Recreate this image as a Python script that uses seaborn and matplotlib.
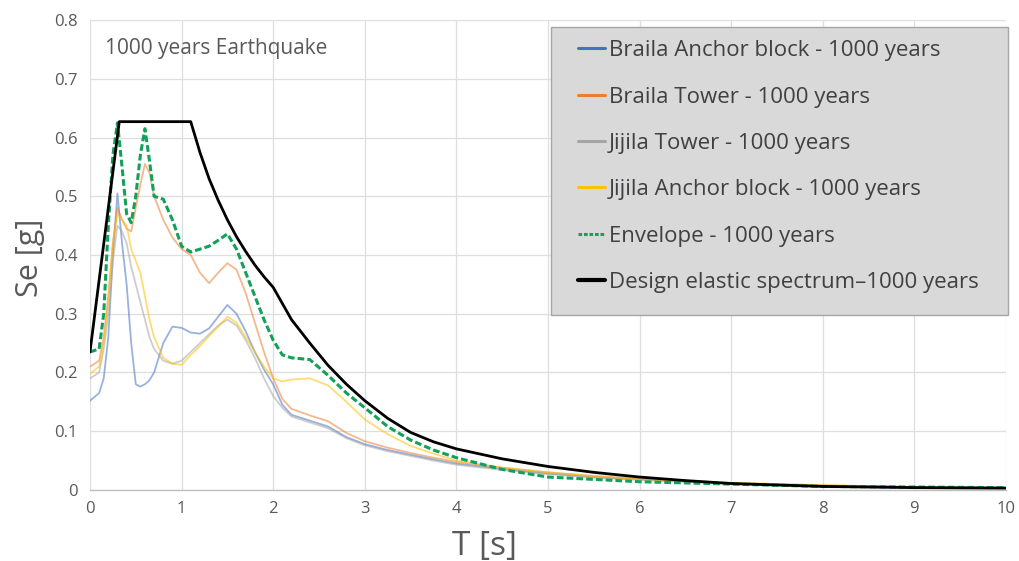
import numpy as np
import pandas as pd
import matplotlib
matplotlib.use("Agg")
import matplotlib.pyplot as plt
from matplotlib.lines import Line2D
from matplotlib.patches import Rectangle
import seaborn as sns

# ---------------- data ----------------
T = [0, 0.1, 0.15, 0.2, 0.25, 0.3, 0.35, 0.4, 0.45, 0.5, 0.55, 0.6, 0.65, 0.7,
     0.8, 0.9, 1.0, 1.1, 1.2, 1.3, 1.4, 1.5, 1.6, 1.7, 1.8, 1.9, 2.0, 2.1, 2.2,
     2.4, 2.6, 2.8, 3.0, 3.25, 3.5, 3.75, 4.0, 4.5, 5.0, 5.5, 6, 7, 8, 9, 10]

braila_anchor = [0.152, 0.165, 0.19, 0.26, 0.40, 0.505, 0.42, 0.35, 0.25, 0.18, 0.176,
                 0.18, 0.187, 0.20, 0.25, 0.278, 0.276, 0.268, 0.266, 0.275, 0.295,
                 0.315, 0.30, 0.27, 0.235, 0.205, 0.18, 0.145, 0.128, 0.118, 0.108,
                 0.09, 0.078, 0.068, 0.06, 0.052, 0.045, 0.036, 0.028, 0.022, 0.018,
                 0.011, 0.007, 0.005, 0.004]

braila_tower = [0.21, 0.22, 0.26, 0.33, 0.42, 0.48, 0.46, 0.445, 0.44, 0.48, 0.52,
                0.555, 0.54, 0.50, 0.46, 0.43, 0.41, 0.40, 0.37, 0.352, 0.37, 0.386,
                0.375, 0.335, 0.285, 0.235, 0.19, 0.155, 0.138, 0.127, 0.117, 0.097,
                0.083, 0.072, 0.063, 0.055, 0.048, 0.038, 0.030, 0.024, 0.019, 0.012,
                0.008, 0.005, 0.004]

jijila_tower = [0.19, 0.20, 0.24, 0.30, 0.39, 0.45, 0.44, 0.42, 0.38, 0.35, 0.32,
                0.29, 0.26, 0.24, 0.22, 0.215, 0.22, 0.235, 0.25, 0.265, 0.28, 0.29,
                0.28, 0.255, 0.225, 0.19, 0.16, 0.14, 0.125, 0.115, 0.105, 0.088,
                0.076, 0.066, 0.058, 0.05, 0.043, 0.034, 0.027, 0.021, 0.017, 0.011,
                0.007, 0.005, 0.004]

jijila_anchor = [0.198, 0.21, 0.25, 0.32, 0.42, 0.47, 0.46, 0.45, 0.41, 0.39, 0.37,
                 0.33, 0.29, 0.26, 0.225, 0.215, 0.213, 0.23, 0.245, 0.262, 0.278,
                 0.295, 0.285, 0.26, 0.235, 0.21, 0.19, 0.185, 0.188, 0.19, 0.178,
                 0.15, 0.12, 0.095, 0.075, 0.062, 0.05, 0.038, 0.030, 0.023, 0.018,
                 0.012, 0.008, 0.005, 0.004]

envelope = [0.235, 0.24, 0.30, 0.45, 0.57, 0.625, 0.55, 0.47, 0.455, 0.50, 0.57,
            0.615, 0.56, 0.50, 0.495, 0.46, 0.415, 0.405, 0.41, 0.415, 0.425, 0.436,
            0.41, 0.37, 0.33, 0.29, 0.255, 0.23, 0.225, 0.222, 0.195, 0.165, 0.14,
            0.108, 0.085, 0.068, 0.055, 0.035, 0.022, 0.018, 0.014, 0.010, 0.006,
            0.005, 0.004]

T_design = [0, 0.32, 1.1, 1.2, 1.3, 1.4, 1.5, 1.6, 1.7, 1.8, 1.9, 2.0, 2.2, 2.4,
            2.6, 2.8, 3.0, 3.25, 3.5, 3.75, 4.0, 4.5, 5.0, 5.5, 6, 6.5, 7, 8, 9, 10]
design = [0.235, 0.627, 0.627, 0.575, 0.53, 0.493, 0.46, 0.431, 0.406, 0.383, 0.363,
          0.345, 0.29, 0.25, 0.212, 0.18, 0.152, 0.122, 0.098, 0.082, 0.07, 0.053,
          0.04, 0.03, 0.022, 0.016, 0.011, 0.006, 0.004, 0.003]

labels = ["Braila Anchor block - 1000 years", "Braila Tower - 1000 years",
          "Jijila Tower - 1000 years", "Jijila Anchor block - 1000 years",
          "Envelope - 1000 years", "Design elastic spectrum\u20131000 years"]
x_ticks = [0, 1, 2, 3, 4, 5, 6, 7, 8, 9, 10]
y_ticks = [0, 0.1, 0.2, 0.3, 0.4, 0.5, 0.6, 0.7, 0.8]
y_tick_labels = ["0", "0.1", "0.2", "0.3", "0.4", "0.5", "0.6", "0.7", "0.8"]

# ---------------- styling ----------------
sns.set_theme(style="white")
plt.rcParams["font.family"] = ["Open Sans", "DejaVu Sans"]

colors = ["#4472C4", "#ED7D31", "#A5A5A5", "#FFC000", "#13A05A", "#000000"]
text_col = "#595959"

fig = plt.figure(figsize=(10.19, 5.61), dpi=100)
ax = fig.add_axes([0.0883, 0.1266, 0.8989, 0.8377])

records = [braila_anchor, braila_tower, jijila_tower, jijila_anchor]
for vals, c in zip(records, colors[:4]):
    df = pd.DataFrame({"T": T, "Se": vals})
    sns.lineplot(data=df, x="T", y="Se", ax=ax, color=c, lw=1.3, alpha=0.55,
                 estimator=None, sort=False)

df_env = pd.DataFrame({"T": T, "Se": envelope})
sns.lineplot(data=df_env, x="T", y="Se", ax=ax, color=colors[4], lw=2.2,
             estimator=None, sort=False)
ax.lines[-1].set_linestyle((0, (2.2, 1.0)))

df_des = pd.DataFrame({"T": T_design, "Se": design})
sns.lineplot(data=df_des, x="T", y="Se", ax=ax, color=colors[5], lw=2.0,
             estimator=None, sort=False)

ax.set_xlim(0, 10)
ax.set_ylim(0, 0.8)
ax.set_xticks(x_ticks)
ax.set_yticks(y_ticks)
ax.set_yticklabels(y_tick_labels)
ax.tick_params(axis="both", length=0, labelsize=12, labelcolor=text_col)
ax.tick_params(axis="x", pad=8)
ax.tick_params(axis="y", pad=9)
ax.grid(True, color="#dedede", lw=0.9)
for s in ["top", "right", "left"]:
    ax.spines[s].set_visible(False)
ax.spines["bottom"].set_color("#bfbfbf")
ax.spines["bottom"].set_linewidth(1.0)

ax.set_xlabel("T [s]", fontsize=24, color=text_col)
ax.xaxis.set_label_coords(0.431, -0.085)
ax.set_ylabel("Se [g]", fontsize=22, color=text_col)
ax.yaxis.set_label_coords(-0.049, 0.494)

ax.text(0.016, 0.94, "1000 years Earthquake", transform=ax.transAxes,
        fontsize=15, color=text_col, va="center", ha="left")

# legend box (drawn as its own patch) and legend entries
box = Rectangle((0.5033, 0.3723), 0.4989, 0.6128, transform=ax.transAxes,
                facecolor="#d9d9d9", edgecolor="#a6a6a6", lw=1.0, zorder=4,
                clip_on=False)
ax.add_patch(box)

handles = [Line2D([], [], color=c, lw=2.2) for c in colors]
handles[4] = Line2D([], [], color=colors[4], lw=2.2, linestyle=(0, (1.2, 0.6)))
handles[5] = Line2D([], [], color=colors[5], lw=3.0)
leg = ax.legend(handles, labels, loc="upper left", bbox_to_anchor=(0.5328, 0.957),
                frameon=False, fontsize=16, handlelength=1.2,
                handletextpad=0.2, labelspacing=1.14, borderpad=0,
                borderaxespad=0)
leg.set_zorder(5)
for t in leg.get_texts():
    t.set_color("#404040")

fig.savefig("out.png", dpi=100, facecolor="white")
